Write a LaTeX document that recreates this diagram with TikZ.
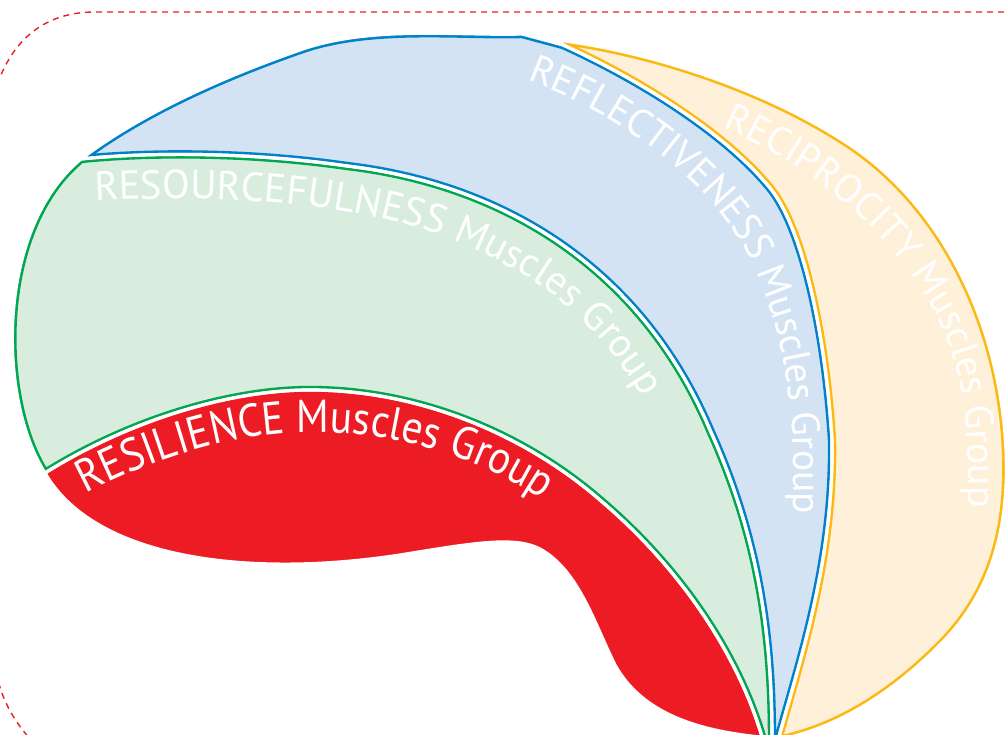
\documentclass[tikz,border=0pt]{standalone}
\usepackage{fontspec}
\setmainfont{PT Sans}
\newfontfamily\narrowfont[FakeStretch=0.9]{PT Sans}
\usetikzlibrary{decorations.text}
\definecolor{rred}{RGB}{237,28,36}
\definecolor{gfill}{RGB}{217,237,223}
\definecolor{gline}{RGB}{0,166,81}
\definecolor{bfill}{RGB}{211,227,244}
\definecolor{bline}{RGB}{0,130,200}
\definecolor{yfill}{RGB}{255,240,218}
\definecolor{yline}{RGB}{253,185,19}
\newcommand\fA{\narrowfont\fontsize{46}{46}\selectfont}
\newcommand\fB{\fontsize{40.5}{40.5}\selectfont}
\newcommand\fC{\fontsize{39.5}{39.5}\selectfont}
\newcommand\fD{\fontsize{39.5}{39.5}\selectfont}
% shared boundaries (screen coordinates, y downward)
\def\BgbF{(81,159) .. controls (150,152) and (250,152) .. (347,166) .. controls (500,184) and (640,265) .. (710,430) .. controls (760,540) and (772,640) .. (772,740)}
\def\BgbR{(772,740) .. controls (772,640) and (760,540) .. (710,430) .. controls (640,265) and (500,184) .. (347,166) .. controls (250,152) and (150,152) .. (81,159)}
\def\BrgF{(45,473) .. controls (130,420) and (230,390) .. (310,390) .. controls (420,390) and (525,435) .. (600,500) .. controls (685,572) and (740,660) .. (763,740)}
\def\BrgR{(763,740) .. controls (740,660) and (685,572) .. (600,500) .. controls (525,435) and (420,390) .. (310,390) .. controls (230,390) and (130,420) .. (45,473)}
\def\BbyF{(563,45) .. controls (640,80) and (725,133) .. (770,188) .. controls (802,227) and (825,330) .. (832,440) .. controls (834,560) and (800,660) .. (778,740)}
\def\BbyR{(778,740) .. controls (800,660) and (834,560) .. (832,440) .. controls (825,330) and (802,227) .. (770,188) .. controls (725,133) and (640,80) .. (563,45)}
% regions
\def\Pyellow{(557,40) .. controls (640,50) and (760,85) .. (850,145) .. controls (940,205) and (1000,320) .. (1006,450) .. controls (1010,540) and (985,600) .. (940,645) .. controls (890,695) and (840,725) .. (787,738) -- \BbyR -- cycle}
\def\Pblue{(81,159) .. controls (130,122) and (200,85) .. (300,50) .. controls (370,25) and (460,36) .. (522,34) -- \BbyF -- \BgbR -- cycle}
\def\Pgreen{\BgbF -- \BrgR .. controls (-2,400) and (-5,230) .. (81,159) -- cycle}
\def\Pred{\BrgF -- (760,737) .. controls (690,730) and (640,710) .. (615,665) .. controls (595,625) and (580,575) .. (545,552) .. controls (520,535) and (480,542) .. (400,555) .. controls (250,578) and (95,560) .. (45,473) -- cycle}
\tikzset{
  edgeline/.style={line width=8.4pt, line join=round},
  gapline/.style={white, line width=3.2pt, line join=round},
  border/.style={draw=rred, line width=1.4pt, dash pattern=on 6pt off 5pt},
  lbl/.style={decorate, decoration={text along path, text align=left, text color=white}}
}
\begin{document}
\begin{tikzpicture}[x=1pt,y=1pt]
\useasboundingbox (0,0) rectangle (1007,735);
\begin{scope}[shift={(0,735)}, yscale=-1]
  \path[border] (1015,12) -- (95,12) .. controls (40,12) and (8,45) .. (-6,95) -- (-6,645) .. controls (-6,695) and (15,725) .. (45,755);
  % yellow
  \begin{scope}
    \clip \Pyellow;
    \fill[yfill] \Pyellow;
    \draw[yline, edgeline] \Pyellow;
  \end{scope}
  % blue
  \begin{scope}
    \clip \Pblue;
    \fill[bfill] \Pblue;
    \draw[bline, edgeline] \Pblue;
  \end{scope}
  % green
  \begin{scope}
    \clip \Pgreen;
    \fill[gfill] \Pgreen;
    \draw[gline, edgeline] \Pgreen;
  \end{scope}
  % red
  \fill[rred] \Pred;
  % white gaps
  \draw[gapline] \Pyellow;
  \draw[gapline] \Pblue;
  \draw[gapline] \Pgreen;
  \draw[gapline] \Pred;
\end{scope}
% labels
\path[lbl, decoration={text={|\fA|RESILIENCE Muscles Group}}]
  (86,241) .. controls (160,280) and (240,303) .. (315,303) .. controls (400,303) and (500,275) .. (575,210);
\path[lbl, decoration={text={|\fB|RESOURCEFULNESS Muscles Group}}]
  (95,534) .. controls (250,542) and (400,530) .. (500,473) .. controls (570,440) and (630,375) .. (670,285);
\path[lbl, decoration={text={|\fC|REFLECTIVENESS Muscles Group}}]
  (527,655) .. controls (620,620) and (690,565) .. (730,510) .. controls (775,445) and (793,355) .. (793,275) -- (793,155);
\path[lbl, decoration={text={|\fD|RECIPROCITY Muscles Group}}]
  (722,607) .. controls (800,575) and (860,525) .. (900,475) .. controls (950,415) and (968,345) .. (968,275) -- (968,155);
\end{tikzpicture}
\end{document}
